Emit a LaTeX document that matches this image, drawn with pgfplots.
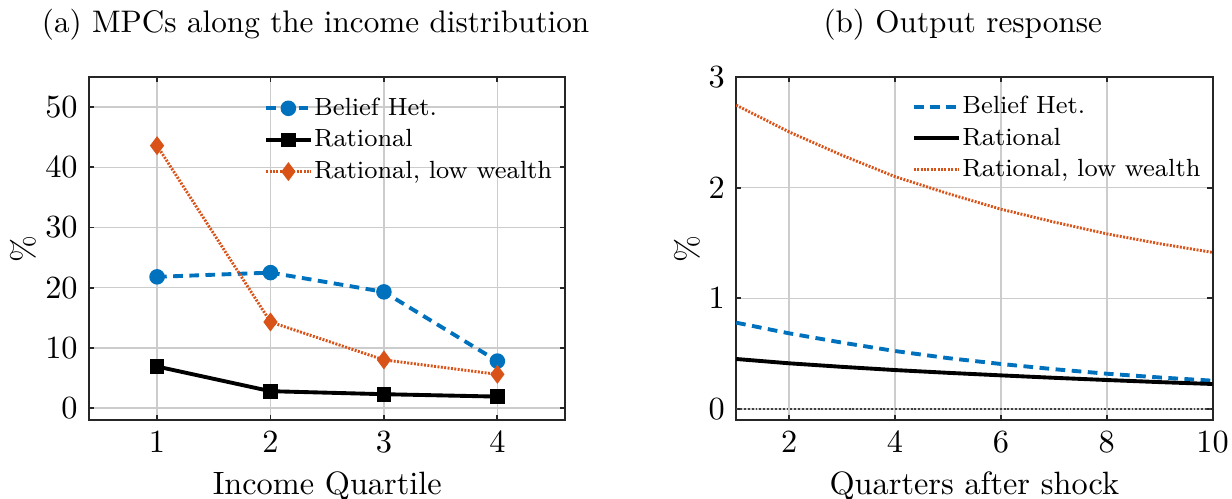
\documentclass[border=0pt]{standalone}
\usepackage{pgfplots}
\pgfplotsset{compat=1.18}
\definecolor{mblue}{RGB}{0,114,189}
\definecolor{morange}{RGB}{217,83,25}
\definecolor{axgray}{RGB}{38,38,38}
\pgfplotsset{
 mystyle/.style={
  scale only axis, width=147.5pt, height=106.2pt,
  anchor=south west,
  axis line style={axgray, line width=0.6pt},
  tick style={axgray, line width=0.6pt},
  major tick length=1.6pt,
  tick align=inside,
  grid=major, major grid style={black!20, line width=0.5pt},
  every axis title/.style={at={(axis description cs:0.5,1)}, anchor=base, yshift=13.7pt, xshift=-3.6pt, font=\fontsize{9.65pt}{12pt}\selectfont},
  every axis x label/.style={at={(axis description cs:0.5,0)}, anchor=base, yshift=-23pt},
  legend cell align=left,
  legend style={draw=none, fill=none, inner sep=0pt, outer sep=0pt, row sep=0pt,
    font=\fontsize{7.7pt}{9.4pt}\selectfont,
    nodes={inner xsep=0.5pt, inner ysep=0.5pt, text height=6.5pt, text depth=2.3pt}},
 }
}
\begin{document}
\begin{tikzpicture}
\path[use as bounding box] (0,0) rectangle (381.4pt,154.2pt);
\begin{axis}[mystyle, at={(27.55pt,24.15pt)},
  xmin=0.4, xmax=4.6, ymin=-2, ymax=55,
  xtick={1,2,3,4}, ytick={0,10,20,30,40,50},
  title={(a) MPCs along the income distribution},
  xlabel={Income Quartile}, ylabel={\%},
  every axis y label/.style={at={(axis description cs:0,0.5)}, rotate=90, anchor=center, yshift=20.4pt},
  legend style={at={(0.368,0.955)}, anchor=north west},
  legend image code/.code={\draw[mark repeat=2,mark phase=2,#1] plot coordinates {(0pt,0pt) (6.85pt,0pt) (13.7pt,0pt)};},
]
\addplot[mblue, line width=1.2pt, dash pattern=on 3pt off 2pt, mark=*, mark size=1.8pt, mark options={solid}]
 coordinates {(1,21.8) (2,22.5) (3,19.3) (4,7.8)};
\addlegendentry{Belief Het.}
\addplot[black, line width=1.2pt, mark=square*, mark size=1.7pt, mark options={solid}]
 coordinates {(1,6.9) (2,2.8) (3,2.3) (4,1.9)};
\addlegendentry{Rational}
\addplot[morange, line width=0.9pt, dash pattern=on 0.6pt off 0.45pt, mark=diamond*, mark size=2.2pt, mark options={solid}]
 coordinates {(1,43.6) (2,14.3) (3,8.0) (4,5.6)};
\addlegendentry{Rational, low wealth}
\end{axis}
\begin{axis}[mystyle, at={(227.9pt,24.15pt)},
  xmin=1, xmax=10, ymin=-0.1, ymax=3,
  xtick={2,4,6,8,10}, ytick={0,1,2,3},
  title={(b) Output response},
  xlabel={Quarters after shock}, ylabel={\%},
  every axis y label/.style={at={(axis description cs:0,0.5)}, rotate=90, anchor=center, yshift=15.2pt},
  legend style={at={(0.369,0.96)}, anchor=north west},
  legend image code/.code={\draw[#1] (0pt,0pt) -- (13.9pt,0pt);},
]
\addplot[black!75, line width=0.6pt, dash pattern=on 0.6pt off 0.6pt, forget plot]
 coordinates {(1,0) (10,0)};
\addplot[mblue, line width=1.2pt, dash pattern=on 3pt off 2pt]
 coordinates {(1,0.780) (2,0.684) (3,0.600) (4,0.524) (5,0.460) (6,0.407) (7,0.360) (8,0.319) (9,0.285) (10,0.256)};
\addlegendentry{Belief Het.}
\addplot[black, line width=1.2pt]
 coordinates {(1,0.452) (2,0.413) (3,0.381) (4,0.352) (5,0.327) (6,0.304) (7,0.282) (8,0.262) (9,0.243) (10,0.226)};
\addlegendentry{Rational}
\addplot[morange, line width=0.9pt, dash pattern=on 0.6pt off 0.45pt]
 coordinates {(1,2.746) (2,2.504) (3,2.293) (4,2.100) (5,1.947) (6,1.806) (7,1.690) (8,1.583) (9,1.494) (10,1.415)};
\addlegendentry{Rational, low wealth}
\end{axis}
\end{tikzpicture}
\end{document}
